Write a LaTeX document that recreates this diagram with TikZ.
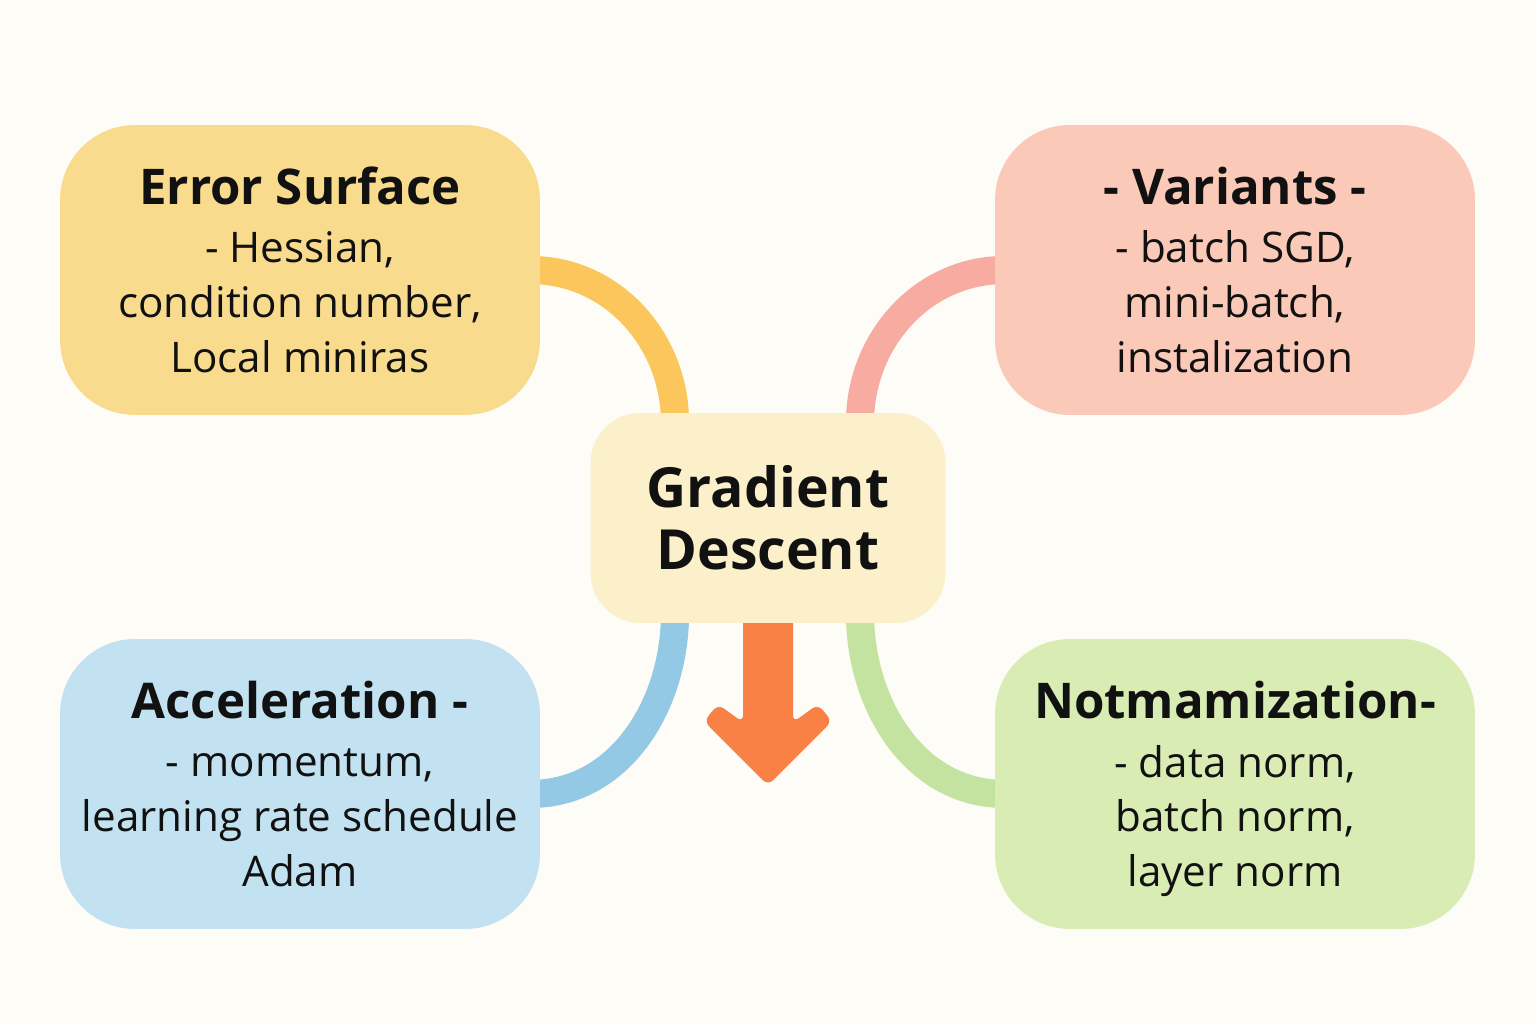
\documentclass[tikz,border=0pt]{standalone}
\usepackage{fontspec}
\setmainfont{Open Sans}
\usetikzlibrary{calc}
\pgfdeclarelayer{bg}
\pgfdeclarelayer{links}
\pgfsetlayers{bg,links,main}
\definecolor{paper}{HTML}{FDFCF7}
\definecolor{esfill}{HTML}{F9DB8D}
\definecolor{vafill}{HTML}{FAC9B8}
\definecolor{acfill}{HTML}{C3E2F1}
\definecolor{nmfill}{HTML}{D8ECB3}
\definecolor{gdfill}{HTML}{FCF0CB}
\definecolor{esline}{HTML}{FBC65C}
\definecolor{valine}{HTML}{F8ABA0}
\definecolor{acline}{HTML}{93C9E4}
\definecolor{nmline}{HTML}{C5E3A0}
\definecolor{arrowc}{HTML}{F98146}
\definecolor{ink}{HTML}{111111}
\begin{document}
\begin{tikzpicture}[x=0.02cm,y=0.02cm,
  box/.style={rounded corners=1.5cm, minimum width=9.6cm, minimum height=5.8cm,
    align=center, inner sep=0pt, text=ink,
    font=\fontsize{24}{31.2}\selectfont},
  hub/.style={rounded corners=1.0cm, minimum width=7.1cm, minimum height=4.2cm,
    align=center, inner sep=0pt, text=ink, fill=gdfill,
    font=\fontsize{31.5}{35.5}\selectfont\bfseries},
  link/.style={line width=16pt}]
\useasboundingbox (0,0) rectangle (1536,1024);
\begin{pgfonlayer}{bg}
\fill[paper] (0,0) rectangle (1536,1024);
\end{pgfonlayer}

\node[box, fill=esfill] (es) at (300,754)
  {{\fontsize{28}{31.2}\selectfont\bfseries Error Surface}\\[2pt] - Hessian,\\ condition number,\\ Local miniras};
\node[box, fill=vafill] (va) at (1235,754)
  {{\fontsize{28}{31.2}\selectfont\bfseries - Variants -}\\[2pt] - batch SGD,\\ mini-batch,\\ instalization};
\node[box, fill=acfill] (ac) at (300,240)
  {{\fontsize{28}{31.2}\selectfont\bfseries Acceleration -}\\[2pt] - momentum,\\ learning rate schedule\\ Adam};
\node[box, fill=nmfill] (nm) at (1235,240)
  {{\fontsize{28}{31.2}\selectfont\bfseries Notmamization-}\\[2pt] - data norm,\\ batch norm,\\ \raisebox{0pt}[\height][0pt]{layer norm}};
\node[hub] (gd) at (768,506) {Gradient\\Descent};

\begin{pgfonlayer}{links}
\draw[link, esline] ([xshift=-0.2cm]es.east) to[out=0,in=90] ([xshift=-1.86cm,yshift=-0.2cm]gd.north);
\draw[link, valine] ([xshift=0.2cm]va.west) to[out=180,in=90] ([xshift=1.84cm,yshift=-0.2cm]gd.north);
\draw[link, acline] ([xshift=-0.2cm,yshift=-0.2cm]ac.east) to[out=0,in=-90] ([xshift=-1.86cm,yshift=0.2cm]gd.south);
\draw[link, nmline] ([xshift=0.2cm,yshift=-0.2cm]nm.west) to[out=180,in=-90] ([xshift=1.84cm,yshift=0.2cm]gd.south);
\fill[arrowc, rounded corners=0.14cm]
  ($(gd.south)+(-25,15)$) -- ($(gd.south)+(-25,-99)$) -- ($(gd.south)+(-50,-81)$)
  -- ($(gd.south)+(-64,-98)$) -- ($(gd.south)+(0,-162)$) -- ($(gd.south)+(64,-98)$)
  -- ($(gd.south)+(50,-81)$) -- ($(gd.south)+(25,-99)$) -- ($(gd.south)+(25,15)$) -- cycle;
\end{pgfonlayer}
\end{tikzpicture}
\end{document}
